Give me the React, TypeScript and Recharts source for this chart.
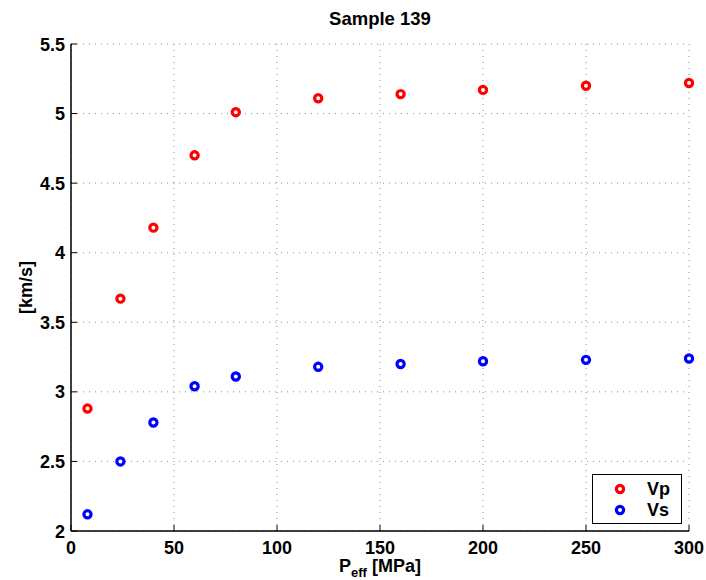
import React from 'react';
import { ScatterChart, Scatter, XAxis, YAxis, CartesianGrid, Legend } from 'recharts';

const pressure = [8, 24, 40, 60, 80, 120, 160, 200, 250, 300];
const vp = [2.88, 3.67, 4.18, 4.7, 5.01, 5.11, 5.14, 5.17, 5.2, 5.22];
const vs = [2.12, 2.5, 2.78, 3.04, 3.11, 3.18, 3.2, 3.22, 3.23, 3.24];
const xTicks = [0, 50, 100, 150, 200, 250, 300];
const yTicks = [2, 2.5, 3, 3.5, 4, 4.5, 5, 5.5];

const vpData = pressure.map((p, i) => ({ p, v: vp[i] }));
const vsData = pressure.map((p, i) => ({ p, v: vs[i] }));

const FONT = '"Liberation Sans", Arial, Helvetica, sans-serif';
const TICK_LEN = 6;

// ticks drawn inward, MATLAB style
const BottomTick = (props: any) => {
  const { x, y, payload } = props;
  const axisY = y - 6;
  return (
    <g>
      <line x1={x} x2={x} y1={axisY} y2={axisY - TICK_LEN} stroke="#000" strokeWidth={1} />
      <text x={x} y={y} dy={17} textAnchor="middle" fontFamily={FONT} fontWeight="bold" fontSize={18} fill="#000">
        {payload.value}
      </text>
    </g>
  );
};

const LeftTick = (props: any) => {
  const { x, y, payload } = props;
  const axisX = x + 6;
  return (
    <g>
      <line x1={axisX} x2={axisX + TICK_LEN} y1={y} y2={y} stroke="#000" strokeWidth={1} />
      <text x={x} y={y} dy={6.5} textAnchor="end" fontFamily={FONT} fontWeight="bold" fontSize={18} fill="#000">
        {payload.value}
      </text>
    </g>
  );
};

const TopTick = (props: any) => {
  const { x, y } = props;
  return <line x1={x} x2={x} y1={y} y2={y + TICK_LEN} stroke="#000" strokeWidth={1} />;
};

const RightTick = (props: any) => {
  const { x, y } = props;
  return <line x1={x} x2={x - TICK_LEN} y1={y} y2={y} stroke="#000" strokeWidth={1} />;
};

const ring = (color: string) => (props: any) => (
  <circle cx={props.cx} cy={props.cy} r={3.6} fill="#fff" stroke={color} strokeWidth={3.2} />
);

const LegendBox = () => (
  <div
    style={{
      width: 90,
      height: 50,
      boxSizing: 'border-box',
      border: '1.5px solid #000',
      background: '#fff',
      fontFamily: FONT,
      fontWeight: 'bold',
      fontSize: 18,
      position: 'relative',
    }}
  >
    {[
      { name: 'Vp', color: '#ff0000', top: 14 },
      { name: 'Vs', color: '#0000ff', top: 35 },
    ].map((it) => (
      <div key={it.name}>
        <svg width={14} height={14} style={{ position: 'absolute', left: 20, top: it.top - 7 }}>
          <circle cx={7} cy={7} r={3.6} fill="#fff" stroke={it.color} strokeWidth={3.2} />
        </svg>
        <span style={{ position: 'absolute', left: 54, top: it.top - 11, lineHeight: '22px' }}>{it.name}</span>
      </div>
    ))}
  </div>
);

const App: React.FC = () => {
  return (
    <div style={{ position: 'absolute', left: 0, top: 0, width: 706, height: 580, background: '#fff' }}>
      <div
        style={{
          position: 'absolute',
          left: 0,
          top: 7,
          width: 706,
          textAlign: 'center',
          paddingLeft: 54,
          boxSizing: 'border-box',
          fontFamily: FONT,
          fontWeight: 'bold',
          fontSize: 18.5,
          lineHeight: '24px',
          zIndex: 2,
        }}
      >
        Sample 139
      </div>
      <ScatterChart width={706} height={580} margin={{ top: 44, right: 17, bottom: 19, left: 11 }}>
        <CartesianGrid stroke="#8c8c8c" strokeDasharray="1 5" strokeWidth={1} />
        <XAxis
          dataKey="p"
          type="number"
          domain={[0, 300]}
          ticks={xTicks}
          height={30}
          tickSize={0}
          tickMargin={6}
          tickLine={false}
          tick={<BottomTick />}
          axisLine={{ stroke: '#000', strokeWidth: 1.5 }}
          label={{
            content: (p: any) => {
              const vb = p.viewBox;
              return (
                <text x={vb.x + vb.width / 2} y={vb.y + 41} textAnchor="middle" fontFamily={FONT} fontWeight="bold" fontSize={18} fill="#000">
                  P
                  <tspan fontSize={13} dy={5}>eff</tspan>
                  <tspan dy={-5}> [MPa]</tspan>
                </text>
              );
            },
          }}
        />
        <XAxis
          xAxisId="top"
          orientation="top"
          type="number"
          domain={[0, 300]}
          ticks={xTicks}
          height={0}
          tickSize={0}
          tickMargin={0}
          tickLine={false}
          tick={<TopTick />}
          axisLine={{ stroke: '#000', strokeWidth: 1.5 }}
        />
        <YAxis
          dataKey="v"
          type="number"
          domain={[2, 5.5]}
          ticks={yTicks}
          width={60}
          tickSize={0}
          tickMargin={6}
          tickLine={false}
          tick={<LeftTick />}
          axisLine={{ stroke: '#000', strokeWidth: 1.5 }}
          label={{
            content: (p: any) => {
              const vb = p.viewBox;
              const cx = 26;
              const cy = vb.y + vb.height / 2;
              return (
                <text x={cx} y={cy} transform={`rotate(-90 ${cx} ${cy})`} dy={6} textAnchor="middle" fontFamily={FONT} fontWeight="bold" fontSize={18} fill="#000">
                  [km/s]
                </text>
              );
            },
          }}
        />
        <YAxis
          yAxisId="right"
          orientation="right"
          type="number"
          domain={[2, 5.5]}
          ticks={yTicks}
          width={0}
          tickSize={0}
          tickMargin={0}
          tickLine={false}
          tick={<RightTick />}
          axisLine={{ stroke: '#000', strokeWidth: 1.5 }}
        />
        <Legend
          layout="vertical"
          align="center"
          verticalAlign="middle"
          wrapperStyle={{ left: 592, top: 474, width: 90, height: 50 }}
          content={() => <LegendBox />}
        />
        <Scatter name="Vp" data={vpData} shape={ring('#ff0000')} isAnimationActive={false} />
        <Scatter name="Vs" data={vsData} shape={ring('#0000ff')} isAnimationActive={false} />
      </ScatterChart>
    </div>
  );
};

export default App;
